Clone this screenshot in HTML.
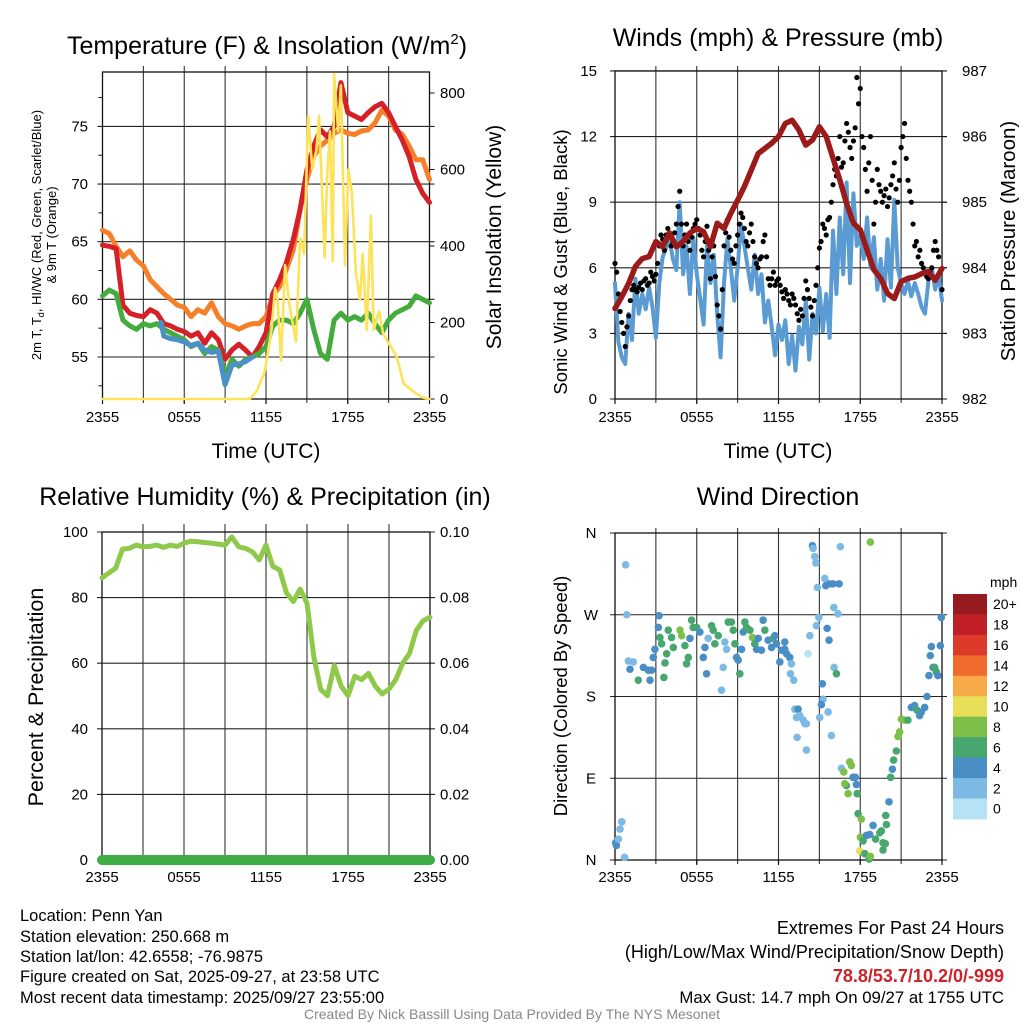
<!DOCTYPE html>
<html><head><meta charset="utf-8">
<style>
html,body{margin:0;padding:0;background:#fff;}
svg{display:block;font-family:"Liberation Sans",Arial,sans-serif;}
</style></head>
<body>
<svg id="chart" width="1024" height="1024" viewBox="0 0 1024 1024" xmlns="http://www.w3.org/2000/svg">
<rect width="1024" height="1024" fill="#fff"/>
<g id="g1"></g>
<g id="g2"></g>
<g id="g3"></g>
<g id="g4"></g>

<text x="267" y="54" font-size="25" text-anchor="middle">Temperature (F) &amp; Insolation (W/m<tspan font-size="15" dy="-10">2</tspan><tspan dy="10">)</tspan></text>
<text x="778" y="46" font-size="25" text-anchor="middle">Winds (mph) &amp; Pressure (mb)</text>
<text x="265" y="505" font-size="25" text-anchor="middle">Relative Humidity (%) &amp; Precipitation (in)</text>
<text x="778" y="505" font-size="25" text-anchor="middle">Wind Direction</text>

<text x="266" y="458" font-size="21" text-anchor="middle">Time (UTC)</text>
<text x="778" y="458" font-size="21" text-anchor="middle">Time (UTC)</text>

<text transform="translate(41,235) rotate(-90)" font-size="13" text-anchor="middle">2m T, T<tspan font-size="9" dy="3">d</tspan><tspan dy="-3">, HI/WC (Red, Green, Scarlet/Blue)</tspan></text>
<text transform="translate(56,235) rotate(-90)" font-size="13" text-anchor="middle">&amp; 9m T (Orange)</text>
<text transform="translate(501,237) rotate(-90)" font-size="21" text-anchor="middle">Solar Insolation (Yellow)</text>
<text transform="translate(567,262) rotate(-90)" font-size="18.5" text-anchor="middle">Sonic Wind &amp; Gust (Blue, Black)</text>
<text transform="translate(1015,241) rotate(-90)" font-size="20.5" text-anchor="middle">Station Pressure (Maroon)</text>
<text transform="translate(43,697) rotate(-90)" font-size="21.5" text-anchor="middle">Percent &amp; Precipitation</text>
<text transform="translate(567,696) rotate(-90)" font-size="18.5" text-anchor="middle">Direction (Colored By Speed)</text>

<g font-size="16.5">
<text x="20" y="921">Location: Penn Yan</text>
<text x="20" y="942">Station elevation: 250.668 m</text>
<text x="20" y="962">Station lat/lon: 42.6558; -76.9875</text>
<text x="20" y="982">Figure created on Sat, 2025-09-27, at 23:58 UTC</text>
<text x="20" y="1003">Most recent data timestamp: 2025/09/27 23:55:00</text>
</g>
<g font-size="18" text-anchor="end">
<text x="1004" y="934">Extremes For Past 24 Hours</text>
<text x="1004" y="958">(High/Low/Max Wind/Precipitation/Snow Depth)</text>
<text x="1004" y="982" fill="#cc2229" font-weight="bold">78.8/53.7/10.2/0/-999</text>
<text x="1004" y="1003" font-size="16.8">Max Gust: 14.7 mph On 09/27 at 1755 UTC</text>
</g>
<text x="512" y="1019" font-size="14" fill="#888" text-anchor="middle">Created By Nick Bassill Using Data Provided By The NYS Mesonet</text>
</svg>
<script>
// ---- Data ----
const xTickLabels = ["2355","0555","1155","1755","2355"];
const tempTicks = [55,60,65,70,75];
const insolTicks = [0,200,400,600,800];
const windTicks = [0,3,6,9,12,15];
const presTicks = [982,983,984,985,986,987];
const rhTicks = [0,20,40,60,80,100];
const precipTickLabels = ["0.00","0.02","0.04","0.06","0.08","0.10"];
const dirTickLabels = ["N","E","S","W","N"];
const speedBinLabels = ["0","2","4","6","8","10","12","14","16","18","20+"];

// half-hourly (0..24 h)
const temp2m = [64.7,64.6,64.4,59.5,58.8,58.6,58.5,59.1,58.8,57.9,57.7,57.4,57.2,56.8,57.1,56.2,57.1,56.5,54.8,55.6,56.1,55.6,55.0,55.9,57.1,60.5,61.7,63.2,65.2,67.8,71.2,73.3,74.7,74.1,75.0,78.8,76.2,75.9,75.6,76.2,76.7,77.0,76.2,75.0,73.8,72.4,70.4,69.2,68.4];
const temp9m = [66.0,65.7,64.6,63.7,64.2,63.4,62.9,61.7,61.1,60.5,60.0,59.5,59.3,58.5,59.1,58.8,59.7,58.5,57.9,57.7,57.4,57.7,57.9,57.9,58.5,60.3,61.1,62.6,64.3,67.8,70.4,72.4,73.3,73.8,74.4,74.7,74.4,74.3,74.6,74.7,75.3,76.4,75.9,74.7,74.3,73.3,72.1,72.1,70.4];
const dewpoint = [60.3,60.8,60.5,58.2,57.7,57.4,57.9,57.7,57.9,57.4,57.1,56.8,56.5,55.9,56.2,55.3,55.9,55.6,53.3,54.8,54.2,54.8,55.0,55.3,55.9,57.7,58.2,58.2,57.9,58.8,60.0,57.4,55.3,54.8,58.2,58.8,58.2,58.5,58.2,58.8,57.9,57.1,58.2,58.8,59.1,59.4,60.3,60.0,59.7];
const windChillHours = [4.3,4.5,5,5.5,6,6.5,7,7.5,8,8.5,9,9.5,10,10.5,11];
const windChill = [58.0,56.8,56.6,56.5,56.3,56.0,56.2,55.6,55.4,55.5,52.6,54.3,54.4,54.6,55.0];
const insolHours = [0,10.8,11.3,11.9,12.4,12.67,12.85,13.1,13.4,13.7,14.2,14.5,14.8,15.1,15.4,15.7,15.9,16.3,16.5,16.7,16.9,17.0,17.3,17.5,17.8,18.05,18.3,18.6,18.9,19.1,19.4,19.7,19.9,20.3,20.6,21.1,21.6,22.1,22.8,23.4,24];
const insolVals = [0,0,20,70,180,290,260,100,350,250,150,420,380,740,600,650,740,370,590,700,360,850,700,820,350,600,540,330,260,380,180,480,180,230,170,140,110,40,20,5,0];

const pressure = [983.38,983.56,983.76,984.02,984.14,984.17,984.4,984.32,984.53,984.32,984.4,984.53,984.6,984.55,984.32,984.68,984.6,984.83,985.03,985.24,985.49,985.74,985.82,985.9,986.0,986.2,986.25,986.1,985.87,985.95,986.15,986.0,985.67,985.34,984.98,984.68,984.58,984.27,983.97,983.84,983.61,983.53,983.79,983.84,983.86,983.91,983.94,983.81,983.99];
// quarter-hourly
const windSpeed = [5.3,2.6,1.9,1.6,3.9,2.7,5.5,3.9,4.8,4.1,5.1,4.2,2.8,5.3,6.5,6.9,7.3,6.4,5.9,9.0,5.7,7.0,4.8,7.4,5.7,4.6,3.4,7.0,5.3,6.6,3.9,1.9,5.3,7.3,6.0,4.5,6.0,8.0,7.0,6.0,5.0,6.6,4.8,5.7,3.5,4.5,3.3,2.0,3.4,2.7,3.6,1.6,2.9,1.3,3.3,2.5,4.5,1.8,3.9,3.0,5.1,3.1,4.8,2.8,7.7,4.8,8.3,5.7,9.9,5.3,9.4,7.0,7.5,6.4,8.3,6.0,7.4,5.0,6.4,4.5,7.3,5.1,9.1,6.0,5.3,4.8,5.4,4.7,5.3,4.8,4.2,3.9,5.4,6.0,5.0,5.7,4.5];
const windGust = [6.2,4.8,3.5,2.4,3.8,5.0,5.0,5.1,5.0,5.5,5.3,5.6,5.7,7.0,7.3,7.5,7.6,7.2,8.0,9.5,7.0,8.0,6.8,7.8,8.2,7.5,6.5,7.9,5.5,7.0,4.3,3.2,7.0,8.2,6.8,6.2,7.5,8.5,7.8,7.0,8.0,6.5,6.0,6.5,7.5,5.5,5.5,5.2,5.5,4.9,5.0,4.5,4.8,4.3,3.6,3.8,5.4,4.6,3.8,5.2,6.9,8.0,7.5,8.3,9.8,10.2,12.0,10.8,12.6,11.5,11.8,14.7,14.2,11.5,9.5,12.0,8.0,10.5,9.5,9.3,8.8,9.8,10.8,9.0,11.5,12.6,10.0,9.0,7.0,6.5,6.2,5.8,5.5,6.0,7.2,6.5,5.0];
// gusts at quarter-hour midpoints (t = i*0.25 + 0.125)
const windGustMid = [5.8,4.0,3.0,3.3,4.5,5.2,4.9,5.3,5.4,5.2,5.8,5.4,6.2,7.5,6.8,7.8,7.0,7.6,8.8,8.0,7.5,7.2,7.4,8.0,7.8,6.8,7.2,6.8,6.5,5.6,3.8,5.0,7.6,7.4,6.4,7.0,8.0,8.3,7.2,7.6,7.2,6.2,6.4,7.2,6.5,5.2,5.8,5.4,5.2,4.6,4.8,4.3,4.6,3.9,4.1,4.6,5.0,4.2,4.5,6.0,7.2,7.8,8.2,9.0,10.5,11.0,10.6,11.8,12.2,11.0,12.4,13.5,12.0,10.5,10.8,10.0,9.0,9.8,9.0,9.6,9.2,10.2,9.6,10.0,12.0,11.0,9.5,8.0,7.2,6.8,6.0,5.6,5.8,6.8,6.8,5.8];

const relHum = [86,87.5,89,94.8,95,96,95.5,95.6,96,95.3,96,95.6,96.6,97.2,97,96.8,96.6,96.3,96,98.5,95.5,95,94,91.5,96,89.5,88.4,81.4,78.8,82.6,78.3,62,52,50.1,59.3,53,50.1,56,55,56.9,53,50.6,52.1,55,60,63,70,73,74];
const precip = [0,0,0,0,0,0,0,0,0,0,0,0,0,0,0,0,0,0,0,0,0,0,0,0,0];

const dirHours = [0.78,0.86,0.05,0.1,0.25,0.5,0.37,0.7,0.98,1.34,1.1,1.71,2.08,2.44,2.57,2.69,2.81,2.93,3.18,3.23,3.3,3.42,3.79,3.67,3.59,3.91,4.15,4.28,4.77,4.89,5.13,5.25,5.38,5.5,5.62,5.74,5.99,6.23,6.48,6.6,6.72,6.84,7.09,7.21,7.33,7.58,7.82,7.94,8.06,8.19,8.31,8.55,8.68,8.8,8.92,9.04,9.16,9.29,9.41,9.53,9.65,9.9,10.09,10.26,10.39,10.51,10.75,10.87,11.0,11.24,11.49,11.61,11.73,11.85,12.1,12.22,12.46,12.59,12.83,12.95,12.88,13.12,13.2,13.32,13.44,13.56,13.81,13.93,14.05,13.37,14.05,14.17,14.3,14.49,14.54,14.66,14.74,14.86,14.96,14.78,15.4,15.47,15.76,16.0,16.45,16.54,16.06,16.37,15.57,15.71,16.08,16.25,15.22,15.27,15.15,15.64,15.03,15.88,16.62,16.79,17.23,17.35,17.47,17.64,16.98,16.86,17.11,17.72,17.77,17.84,18.08,18.01,18.21,17.96,18.33,18.65,18.74,18.45,18.94,18.7,19.13,19.43,19.55,19.67,19.84,19.67,19.92,19.87,20.11,20.23,20.36,20.45,20.65,20.77,20.89,21.02,21.26,21.5,21.75,21.99,22.16,22.36,22.48,22.73,22.9,23.04,23.14,23.22,23.34,23.46,23.58,23.7,23.88,23.95,18.74,12.46];
const dirDeg = [325,270,19,16,23,42,34,3,219,218,210,198,212,209,198,209,223,232,256,269,245,238,227,217,201,253,245,234,253,247,236,216,223,244,264,256,256,251,223,234,205,244,258,253,238,247,187,212,240,232,262,262,253,238,223,220,205,232,251,262,256,253,245,238,232,244,231,264,253,242,234,244,247,238,218,231,240,227,223,216,205,198,166,157,166,159,154,150,150,135,121,227,247,346,343,334,327,300,267,258,310,302,304,304,304,345,278,271,255,242,212,205,194,177,171,163,157,137,101,97,108,104,91,91,82,84,73,83,73,51,45,25,21,10,7,1,4,27,38,28,23,30,32,19,18,11,39,49,64,91,100,110,120,136,141,155,154,154,168,170,165,159,163,168,180,203,225,235,212,212,207,203,236,267,350,232];
const dirSpeed = [2,2,4,4,2,2,2,2,2,2,4,6,4,4,4,4,4,4,4,4,6,6,6,6,6,6,6,6,8,8,6,6,6,4,6,6,6,4,4,4,4,2,6,6,6,6,2,2,2,2,6,6,6,6,4,4,6,4,4,6,6,6,8,6,4,4,4,4,6,4,4,6,4,4,4,4,4,4,4,2,2,2,2,2,4,2,2,2,2,2,2,0.5,2,4,2,2,2,2,2,2,2,4,4,4,4,2,2,2,4,4,2,6,4,2,4,2,2,2,2,8,8,8,4,4,6,8,8,4,6,6,8,8,6,10,6,6,8,4,4,4,6,6,6,6,6,6,6,6,4,6,4,6,6,8,8,8,8,6,4,4,6,4,4,4,4,4,4,4,4,6,6,4,4,4,8,4];

// ---- Helpers ----
const NS = "http://www.w3.org/2000/svg";
function mk(parent, tag, attrs){ const e=document.createElementNS(NS,tag); for(const k in attrs) e.setAttribute(k,attrs[k]); parent.appendChild(e); return e; }
function txt(parent, x, y, s, size, anchor){ const t=mk(parent,'text',{x:x,y:y,'font-size':size,'text-anchor':anchor||'middle'}); t.textContent=s; return t; }
const speedColors = ["#b6e2f6","#7cb9e3","#4a8ec6","#48a66f","#7cc04a","#e7df57","#f6aa48","#ef6a2c","#dd3a2b","#c11f27","#951b1e"];
function speedColor(s){ return speedColors[Math.min(10, Math.round(s/2))]; }

function frame(g, x0, x1, yT, yB, gridYs, vTop){
  for(let i=1;i<8;i++){ const x=x0+(x1-x0)*i/8;
    const l=mk(g,'line',{x1:x,x2:x,y1:vTop,y2:yB+4,stroke:'#333','stroke-width':1.1});
      }
  gridYs.forEach(y=>{ const l=mk(g,'line',{x1:x0-5,x2:x1+5,y1:y,y2:y,stroke:'#222','stroke-width':1.1});
      });
  const r=mk(g,'rect',{x:x0,y:yT,width:x1-x0,height:yB-yT,fill:'none',stroke:'#111','stroke-width':1.3});
   
  for(let i=0;i<5;i++){ const x=x0+(x1-x0)*i/4; mk(g,'line',{x1:x,x2:x,y1:yB,y2:yB+5,stroke:'#111','stroke-width':1.2}); }
}
function xLabels(g,x0,x1,y){ xTickLabels.forEach((s,i)=>{ const t=txt(g,x0+(x1-x0)*i/4,y,s,15);
    }); }
function poly(g, pts, color, w, name){ const p=mk(g,'polyline',{points:pts.map(p=>p[0].toFixed(1)+','+p[1].toFixed(1)).join(' '),fill:'none',stroke:color,'stroke-width':w,'stroke-linejoin':'round','stroke-linecap':'round'});
    return p; }

// ---- Panel 1 ----
(function(){
  const g=document.getElementById('g1');
  const x0=102.5,x1=429.5,yT=72,yB=399;
  const xs=t=>x0+t/24*(x1-x0);
  const yT_=v=>357-(v-55)*11.53;
  const yI=v=>399-v*0.3825;
  frame(g,x0,x1,yT,yB,tempTicks.map(yT_),66);
  tempTicks.forEach(v=>{ const t=txt(g,88,yT_(v)+5,String(v),15,'end');   });
  insolTicks.forEach(v=>{ mk(g,'line',{x1:x1,x2:x1+5,y1:yI(v),y2:yI(v),stroke:'#111'}); const t=txt(g,440,yI(v)+5,String(v),15,'start');   });
  for(let v=52.5;v<80;v+=5) mk(g,'line',{x1:x0-4,x2:x0,y1:yT_(v),y2:yT_(v),stroke:'#111'});
  xLabels(g,x0,x1,422);
  const half=(arr)=>arr.map((v,i)=>[xs(i*0.5),yT_(v)]);
  poly(g,half(temp9m),'#f6802a',5,'temp-9m-line');
  poly(g,half(temp2m),'#d42027',5,'temp-2m-line');
  poly(g,half(dewpoint),'#43ac3d',5,'dewpoint-line');
  poly(g,windChill.map((v,i)=>[xs(windChillHours[i]),yT_(v)]),'#4b90c8',5,'windchill-line');
  poly(g,insolVals.map((v,i)=>[xs(insolHours[i]),yI(v)]),'#fde35a',2.6,'insolation-line');
})();

// ---- Panel 2 ----
(function(){
  const g=document.getElementById('g2');
  const x0=615,x1=942,yT=71,yB=399;
  const xs=t=>x0+t/24*(x1-x0);
  const yW=v=>399-v*21.87;
  const yP=v=>399-(v-982)*65.6;
  frame(g,x0,x1,yT,yB,windTicks.map(yW),66);
  windTicks.forEach(v=>{ const t=txt(g,597,yW(v)+5,String(v),15,'end');   });
  presTicks.forEach(v=>{ mk(g,'line',{x1:x1,x2:x1+5,y1:yP(v),y2:yP(v),stroke:'#111'}); const t=txt(g,962,yP(v)+5,String(v),15,'start');   });
  xLabels(g,x0,x1,422);
  poly(g,windSpeed.map((v,i)=>[xs(i*0.25),yW(v)]),'#5a9bd4',4,'wind-speed-line');
  windGust.forEach((v,i)=>{ const c=mk(g,'circle',{cx:xs(i*0.25),cy:yW(v),r:2.6,fill:'#000'});
      });
  windGustMid.forEach((v,i)=>{ const c=mk(g,'circle',{cx:xs(i*0.25+0.125),cy:yW(v),r:2.6,fill:'#000'});
      });
  poly(g,pressure.map((v,i)=>[xs(i*0.5),yP(v)]),'#9b1b1b',5.5,'pressure-line');
})();

// ---- Panel 3 ----
(function(){
  const g=document.getElementById('g3');
  const x0=102,x1=430,yT=532,yB=860;
  const xs=t=>x0+t/24*(x1-x0);
  const yR=v=>860-v*3.28;
  frame(g,x0,x1,yT,yB,rhTicks.map(yR),524);
  rhTicks.forEach((v,i)=>{ const t=txt(g,88,yR(v)+5,String(v),15,'end');  
    const t2=txt(g,440,yR(v)+5,precipTickLabels[i],15,'start');   });
  xLabels(g,x0,x1,882);
  poly(g,relHum.map((v,i)=>[xs(i*0.5),yR(v)]),'#8fc94a',5,'humidity-line');
  poly(g,precip.map((v,i)=>[xs(i),yR(v*1000)]),'#3fad46',10,'precipitation-line');
})();

// ---- Panel 4 ----
(function(){
  const g=document.getElementById('g4');
  const x0=615,x1=942,yT=533,yB=860;
  const xs=t=>x0+t/24*(x1-x0);
  const yD=v=>860-v/360*(yB-yT);
  frame(g,x0,x1,yT,yB,[0,90,180,270,360].map(yD),528);
  dirTickLabels.forEach((s,i)=>{ const t=txt(g,591,yD(i*90)+5,s,15);   });
  xLabels(g,x0,x1,882);
  dirHours.forEach((h,i)=>{ const c=mk(g,'circle',{cx:xs(h),cy:yD(dirDeg[i]),r:3.8,fill:speedColor(dirSpeed[i])});
      });
  const cb=mk(g,'g',{});
   
  const top=594,h=20.45;
  speedBinLabels.forEach((s,i)=>{ const k=10-i; const y=top+i*h;
    const r=mk(cb,'rect',{x:953,y:y,width:34,height:h+0.5,fill:speedColors[k]});
     
    const t=txt(cb,993,y+h/2+5,speedBinLabels[k],14,'start');   });
  const m=txt(cb,990,587,'mph',14,'start');  
})();
</script>
</body></html>
